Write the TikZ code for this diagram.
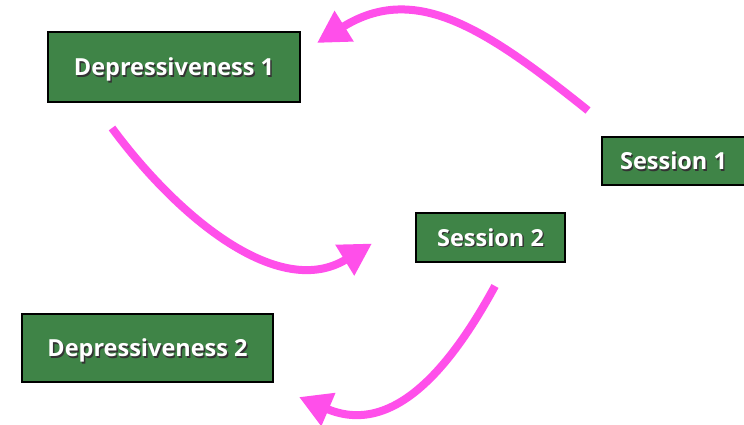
\documentclass[tikz,border=0pt]{standalone}
\usepackage{fontspec}
\setmainfont{Open Sans}
\usetikzlibrary{arrows.meta}
\definecolor{boxgreen}{HTML}{3F8447}
\definecolor{linkpink}{HTML}{FF4FEA}
\newcommand{\shadowed}[1]{%
  \makebox[0pt][l]{\raisebox{-1.4pt}{\hspace{1.4pt}\textcolor{black!80}{#1}}}%
  \textcolor{white}{#1}}
\tikzset{
  box/.style={draw=black, line width=2pt, fill=boxgreen, inner sep=0pt,
    text height=17.8pt, text depth=0pt,
    font=\bfseries\fontsize{23.5}{28}\selectfont},
  link/.style={draw=linkpink, line width=8pt,
    -{Triangle[length=32pt,width=34pt,fill=linkpink]}},
}
\begin{document}
\begin{tikzpicture}[x=1pt,y=-1pt]
\useasboundingbox (0,0) rectangle (744,425);
\node[box, minimum width=252pt, minimum height=70pt] (dep1) at (174,67) {\shadowed{Depressiveness 1}};
\node[box, minimum width=143pt, minimum height=47pt, anchor=west] (ses1) at (601,161) {\shadowed{Session 1}};
\node[box, minimum width=149pt, minimum height=49pt] (ses2) at (490.5,237.5) {\shadowed{Session 2}};
\node[box, minimum width=251pt, minimum height=68pt] (dep2) at (147.5,348) {\shadowed{Depressiveness 2}};

\coordinate (s1out) at ([shift={(-13,-26)}]ses1.north west);
\coordinate (d1in) at ([shift={(16,12)}]dep1.north east);
\coordinate (d1out) at ([shift={(65,25)}]dep1.south west);
\coordinate (s2in) at ([shift={(-43,6)}]ses2.west);
\coordinate (s2out) at ([shift={(80,23)}]ses2.south west);
\coordinate (d2in) at ([shift={(25,14)}]dep2.south east);

\draw[link] (s1out) .. controls (485,28) and (415,-18) .. (d1in);
\draw[link] (d1out) .. controls (180,220) and (280,300) .. (s2in);
\draw[link] (s2out) .. controls (460,350) and (400,440) .. (d2in);
\end{tikzpicture}
\end{document}
